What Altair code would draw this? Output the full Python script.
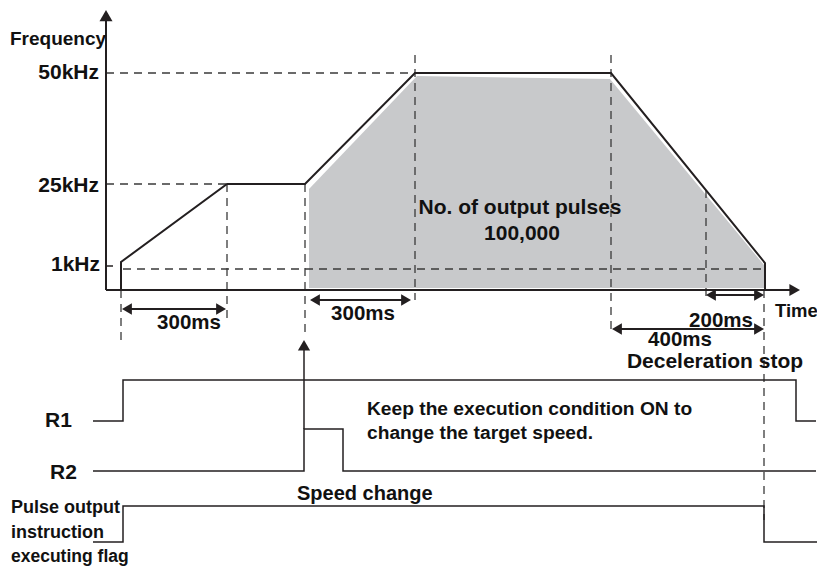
import altair as alt
import pandas as pd

# ---------------- data (diagram units) ----------------
# frequency profile: time positions and level positions of the corners
profile_t = [121, 121, 227, 305, 415, 611, 765, 765]
profile_f = [290, 262, 184, 184, 73, 73, 263, 290]

# shaded area (No. of output pulses)
shade_t = [309, 417, 610, 764]
shade_f = [189, 76, 79, 265]
shade_base = 288

# axes
axis_origin = (106, 290)
y_axis_tip = 10
x_axis_tip = 800

# timing signals
r1_t = [93, 123, 123, 796, 796, 816]
r1_v = [421, 421, 380, 380, 421, 421]
r2_t = [93, 304, 304, 343, 343, 816]
r2_v = [471, 471, 429, 429, 471, 471]
flag_t = [93, 123, 123, 764, 764, 824]
flag_v = [542, 542, 506, 506, 542, 542]

# dashed guide lines (x, y, x2, y2)
guides = [
    (106, 73, 415, 73),
    (106, 184, 227, 184),
    (123, 269, 765, 269),
    (121, 290, 121, 342),
    (227, 184, 227, 320),
    (305, 184, 305, 336),
    (415, 55, 415, 300),
    (611, 55, 611, 332),
    (706, 190, 706, 300),
    (764, 290, 764, 520),
]

# dimension arrows: (start, end, level)
dims = [(122, 226, 309), (310, 411, 300), (706, 764, 295), (612, 764, 329)]

# texts: (text, x, y, align, size)
texts = [
    ("Frequency", 10, 45, "left", 19),
    ("50kHz", 99, 79, "right", 21),
    ("25kHz", 99, 192, "right", 21),
    ("1kHz", 100, 271, "right", 21),
    ("Time", 775, 317, "left", 18.5),
    ("300ms", 189, 329, "center", 20.5),
    ("300ms", 363, 320, "center", 20.5),
    ("200ms", 721, 327, "center", 20.5),
    ("400ms", 680, 346, "center", 20.5),
    ("Deceleration stop", 715, 368, "center", 21),
    ("No. of output pulses", 520, 214, "center", 21),
    ("100,000", 522, 240, "center", 21),
    ("R1", 45, 427, "left", 21),
    ("R2", 50, 479, "left", 21),
    ("Keep the execution condition ON to", 367, 415, "left", 19.2),
    ("change the target speed.", 367, 439, "left", 19.2),
    ("Speed change", 297, 500, "left", 20),
    ("Pulse output", 11, 513, "left", 18),
    ("instruction", 11, 538, "left", 18),
    ("executing flag", 11, 562, "left", 17.5),
]

INK = "#231f20"
DASH = "#3a3a3a"
GRAY = "#c8c9cb"
FONT = "Liberation Sans"

X = alt.X("x:Q", scale=alt.Scale(domain=[8, 817], nice=False, zero=False), axis=None)
Y = alt.Y("y:Q", scale=alt.Scale(domain=[8, 566], nice=False, zero=False, reverse=True), axis=None)

# ---------------- build tables ----------------
shade_df = pd.DataFrame({"x": shade_t, "y": shade_f, "y2": [shade_base] * len(shade_t)})

lines = []
for name, ts, vs in [("profile", profile_t, profile_f), ("r1", r1_t, r1_v),
                     ("r2", r2_t, r2_v), ("flag", flag_t, flag_v)]:
    for i, (t, v) in enumerate(zip(ts, vs)):
        lines.append({"series": name, "i": i, "x": t, "y": v,
                      "w": 2.0 if name == "profile" else 1.5})
lines_df = pd.DataFrame(lines)

ox, oy = axis_origin
solid_rules = [
    {"x": ox, "y": oy, "x2": ox, "y2": y_axis_tip + 8, "w": 2},
    {"x": ox, "y": oy, "x2": x_axis_tip - 8, "y2": oy, "w": 2},
    {"x": ox, "y": 266, "x2": ox + 7, "y2": 266, "w": 1.5},
    {"x": 304, "y": 429, "x2": 304, "y2": 348, "w": 1.5},
]
for a, b, lv in dims:
    solid_rules.append({"x": a + 4, "y": lv, "x2": b - 4, "y2": lv, "w": 2})
solid_df = pd.DataFrame(solid_rules)

dash_df = pd.DataFrame([{"x": a, "y": b, "x2": c, "y2": d} for a, b, c, d in guides])

heads = []
def head(tip_x, tip_y, shape, size):
    h = 0.433 * size ** 0.5
    cx, cy = tip_x, tip_y
    if shape == "triangle-up":
        cy = tip_y + h
    elif shape == "triangle-right":
        cx = tip_x - h
    elif shape == "triangle-left":
        cx = tip_x + h
    heads.append({"x": cx, "y": cy, "shape": shape, "size": size})

head(ox, y_axis_tip, "triangle-up", 169)
head(x_axis_tip, oy, "triangle-right", 150)
head(304, 340, "triangle-up", 150)
for a, b, lv in dims:
    head(a, lv, "triangle-left", 130)
    head(b, lv, "triangle-right", 130)
heads_df = pd.DataFrame(heads)

text_df = pd.DataFrame(texts, columns=["text", "x", "y", "align", "size"])

# ---------------- layers ----------------
shade = alt.Chart(shade_df).mark_area(color=GRAY, opacity=1, interpolate="linear").encode(
    x=X, y=Y, y2="y2:Q")

dashed = alt.Chart(dash_df).mark_rule(color=DASH, strokeWidth=1.3, strokeDash=[8, 6]).encode(
    x=X, y=Y, x2="x2:Q", y2="y2:Q")

solid = alt.Chart(solid_df).mark_rule(color=INK).encode(
    x=X, y=Y, x2="x2:Q", y2="y2:Q",
    strokeWidth=alt.StrokeWidth("w:Q", scale=None))

polylines = alt.Chart(lines_df).mark_line(color=INK, interpolate="linear").encode(
    x=X, y=Y, detail="series:N", order="i:Q",
    strokeWidth=alt.StrokeWidth("w:Q", scale=None))

arrowheads = alt.Chart(heads_df).mark_point(filled=True, color=INK, opacity=1, strokeWidth=0).encode(
    x=X, y=Y,
    shape=alt.Shape("shape:N", scale=None),
    size=alt.Size("size:Q", scale=None))

text_layers = []
for al in ["left", "center", "right"]:
    sub = text_df[text_df["align"] == al]
    text_layers.append(
        alt.Chart(sub).mark_text(align=al, baseline="alphabetic", font=FONT,
                                 fontWeight="bold", color="#111111").encode(
            x=X, y=Y, text="text:N",
            size=alt.Size("size:Q", scale=None)))

chart = alt.layer(shade, dashed, solid, polylines, arrowheads, *text_layers).properties(
    width=809, height=558, padding=0, autosize=alt.AutoSizeParams(type="none"),
    background="white",
).configure_view(stroke=None)

chart.save("out.html", embed_options={"renderer": "svg", "actions": False})
